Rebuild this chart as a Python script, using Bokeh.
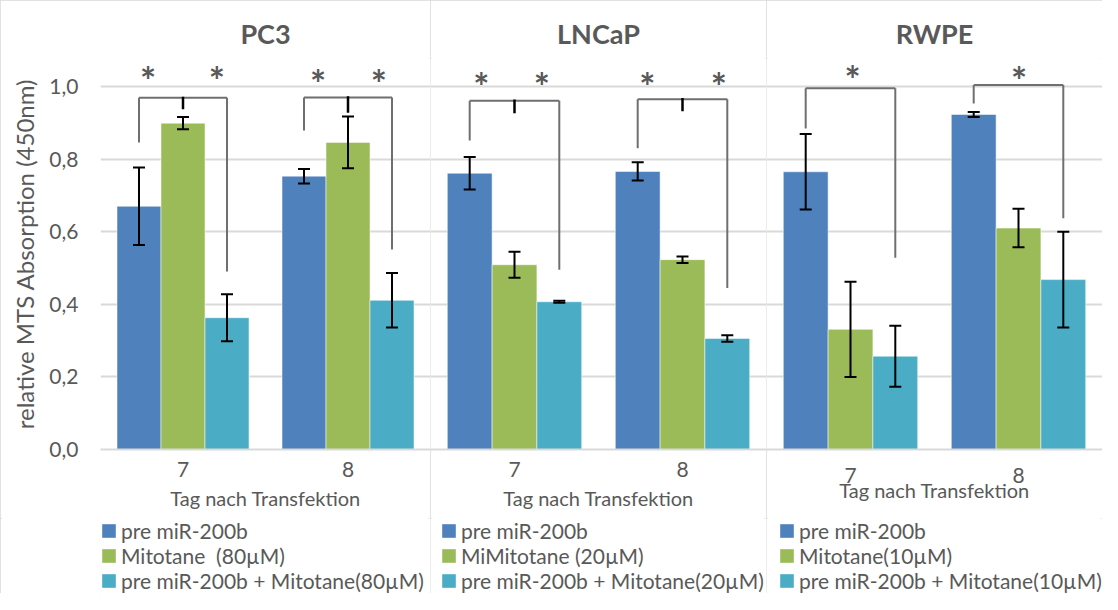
from bokeh.plotting import figure
from bokeh.models import (ColumnDataSource, Whisker, TeeHead, FactorRange, Range1d,
                          Legend, LegendItem, FixedTicker, CustomJSTickFormatter)
from bokeh.transform import dodge
from bokeh.layouts import row, column
from bokeh.core.properties import value
from bokeh.embed import file_html
from bokeh.resources import INLINE

# ---------------- data ----------------
days = ["7", "8"]
panel_titles = ["PC3", "LNCaP", "RWPE"]
x_label = "Tag nach Transfektion"
y_label = "relative MTS Absorption (450nm)"
y_ticks = [0.0, 0.2, 0.4, 0.6, 0.8, 1.0]

pc3_labels = ["pre miR-200b", "Mitotane  (80µM)", "pre miR-200b + Mitotane(80µM)"]
lncap_labels = ["pre miR-200b", "MiMitotane (20µM)", "pre miR-200b + Mitotane(20µM)"]
rwpe_labels = ["pre miR-200b", "Mitotane(10µM)", "pre miR-200b + Mitotane(10µM)"]

pc3_pre = [0.670, 0.753]
pc3_mit = [0.899, 0.846]
pc3_combo = [0.363, 0.411]
pc3_pre_err = [0.107, 0.020]
pc3_mit_err = [0.017, 0.071]
pc3_combo_err = [0.065, 0.075]

lncap_pre = [0.761, 0.766]
lncap_mit = [0.509, 0.523]
lncap_combo = [0.407, 0.306]
lncap_pre_err = [0.045, 0.025]
lncap_mit_err = [0.036, 0.009]
lncap_combo_err = [0.003, 0.009]

rwpe_pre = [0.765, 0.923]
rwpe_mit = [0.331, 0.610]
rwpe_combo = [0.257, 0.468]
rwpe_pre_err = [0.104, 0.007]
rwpe_mit_err = [0.131, 0.053]
rwpe_combo_err = [0.084, 0.132]

# significance brackets (y values of the bracket ends, per day)
pc3_sig_left = [0.846, 0.879]
pc3_sig_top = [0.969, 0.970]
pc3_sig_right = [0.490, 0.551]
pc3_sig_mark = [0.937, 0.928]
lncap_sig_left = [0.851, 0.830]
lncap_sig_top = [0.961, 0.965]
lncap_sig_right = [0.495, 0.445]
lncap_sig_mark = [0.926, 0.932]
rwpe_sig_left = [0.884, 0.953]
rwpe_sig_top = [0.995, 1.004]
rwpe_sig_right = [0.528, 0.637]
rwpe_sig_mark = [None, None]

# ---------------- styling ----------------
COLORS = ["#4F81BD", "#9BBB59", "#4BACC6"]
TXT = "#595959"
GRID = "#d9d9d9"
FONT = "Lato"
BAR_W = 0.8 / 3
OFFSETS = [-BAR_W, 0.0, BAR_W]
Y_TOP = 1.0771
CHART_H = 518
LEG_H = 75

# per panel annotation placement: star offsets (relative to day centre), star heights
star_layout = [
    ([[-0.211, 0.205], [-0.181, 0.187]], [1.036, 1.030]),
    ([[-0.198, 0.163], [-0.21, 0.216]], [1.022, 1.022]),
    ([[0.012], [0.004]], [1.041, 1.036]),
]


def make_panel(idx, title, series, errs, labels, sig, width, left_border,
               show_y, legend_x, tick_standoff, label_standoff):
    p = figure(x_range=FactorRange(factors=days, range_padding=0),
               y_range=Range1d(0, Y_TOP), width=width, height=CHART_H,
               output_backend="svg", toolbar_location=None,
               min_border_left=left_border, min_border_right=0,
               min_border_top=58, min_border_bottom=CHART_H - 449,
               y_axis_location="left" if show_y else None, title=title)
    p.outline_line_color = None
    p.background_fill_color = "white"
    p.border_fill_color = "white"

    p.title.align = "center"
    p.title.text_font = FONT
    p.title.text_font_style = "bold"
    p.title.text_font_size = "27px"
    p.title.text_color = TXT
    p.title.standoff = 18

    p.xgrid.visible = False
    p.ygrid.ticker = FixedTicker(ticks=y_ticks)
    p.ygrid.grid_line_color = GRID
    p.ygrid.grid_line_width = 2

    xa = p.xaxis[0]
    xa.axis_line_color = GRID
    xa.axis_line_width = 2
    xa.major_tick_line_color = None
    xa.minor_tick_line_color = None
    xa.major_tick_out = 0
    xa.major_label_text_font = FONT
    xa.major_label_text_font_size = "21px"
    xa.major_label_text_color = TXT
    xa.major_label_standoff = tick_standoff
    xa.axis_label = x_label
    xa.axis_label_text_font = FONT
    xa.axis_label_text_font_style = "normal"
    xa.axis_label_text_font_size = "20px"
    xa.axis_label_text_color = TXT
    xa.axis_label_standoff = label_standoff

    if show_y:
        ya = p.yaxis[0]
        ya.ticker = FixedTicker(ticks=y_ticks)
        ya.formatter = CustomJSTickFormatter(code="return tick.toFixed(1).replace('.', ',')")
        ya.axis_line_color = None
        ya.major_tick_line_color = None
        ya.minor_tick_line_color = None
        ya.major_tick_out = 0
        ya.major_label_text_font = FONT
        ya.major_label_text_font_size = "21px"
        ya.major_label_text_color = TXT
        ya.major_label_standoff = 22
        ya.axis_label = y_label
        ya.axis_label_text_font = FONT
        ya.axis_label_text_font_style = "normal"
        ya.axis_label_text_font_size = "24px"
        ya.axis_label_text_color = TXT
        ya.axis_label_standoff = 7

    for k, (vals, err) in enumerate(zip(series, errs)):
        src = ColumnDataSource(dict(day=days, top=vals,
                                    upper=[v + e for v, e in zip(vals, err)],
                                    lower=[v - e for v, e in zip(vals, err)]))
        p.vbar(x=dodge("day", OFFSETS[k], range=p.x_range), top="top", bottom=0,
               width=BAR_W, source=src, fill_color=COLORS[k],
               line_color="white", line_alpha=0.5, line_width=1)
        w = Whisker(base=dodge("day", OFFSETS[k], range=p.x_range), upper="upper",
                    lower="lower", source=src, line_color="black", line_width=2,
                    level="overlay",
                    upper_head=TeeHead(size=12, line_color="black", line_width=2),
                    lower_head=TeeHead(size=12, line_color="black", line_width=2))
        p.add_layout(w)

    # significance brackets
    left_y, top_y, right_y, mark_y = sig
    for i in range(len(days)):
        c = i + 0.5
        xl, xr = c + OFFSETS[0], c + OFFSETS[2]
        p.segment(x0=[xl, xl, xr], y0=[left_y[i], top_y[i], top_y[i]],
                  x1=[xl, xr, xr], y1=[top_y[i], top_y[i], right_y[i]],
                  line_color="#6f6f6f", line_width=2)
        if mark_y[i] is not None:
            p.segment(x0=[c], y0=[top_y[i] + 0.003], x1=[c], y1=[mark_y[i]],
                      line_color="black", line_width=2.5)

    offs, heights = star_layout[idx]
    sx, sy = [], []
    for i in range(len(days)):
        for o in offs[i]:
            sx.append(i + 0.5 + o)
            sy.append(heights[i])
    p.text(x=sx, y=sy, text=["*"] * len(sx), text_font=value(FONT),
           text_font_style="bold", text_font_size="38px", text_color=TXT,
           text_align="center", text_baseline="alphabetic", y_offset=7)

    # legend panel beneath the chart; swatch renderers sit outside the visible range
    lg = figure(width=width, height=LEG_H, x_range=Range1d(0, 1), y_range=Range1d(0, 1),
                output_backend="svg", toolbar_location=None,
                x_axis_location=None, y_axis_location=None,
                min_border=0, min_border_left=0, min_border_right=0,
                min_border_top=0, min_border_bottom=0)
    lg.outline_line_color = None
    lg.xgrid.visible = False
    lg.ygrid.visible = False
    swatches = [lg.vbar(x=[-5], top=[-5], bottom=[-5], width=0.1, fill_color=c,
                        line_color=None)
                for c in COLORS]
    legend = Legend(items=[LegendItem(label=lab, renderers=[r])
                           for lab, r in zip(labels, swatches)],
                    location=(legend_x, 0), orientation="vertical",
                    background_fill_alpha=0, border_line_color=None,
                    padding=0, margin=0, spacing=0,
                    glyph_width=17, glyph_height=17, label_height=25,
                    label_standoff=4, label_text_font=FONT,
                    label_text_font_size="21px", label_text_color=TXT)
    lg.add_layout(legend, "center")

    col = column(p, lg, spacing=0)
    col.styles = {"outline": "2px solid #d9d9d9", "outline-offset": "-2px"}
    return col


c1 = make_panel(0, panel_titles[0], [pc3_pre, pc3_mit, pc3_combo],
                [pc3_pre_err, pc3_mit_err, pc3_combo_err], pc3_labels,
                (pc3_sig_left, pc3_sig_top, pc3_sig_right, pc3_sig_mark),
                430, 100, True, 0, 12, 6)
c2 = make_panel(1, panel_titles[1], [lncap_pre, lncap_mit, lncap_combo],
                [lncap_pre_err, lncap_mit_err, lncap_combo_err], lncap_labels,
                (lncap_sig_left, lncap_sig_top, lncap_sig_right, lncap_sig_mark),
                336, 0, False, 10, 12, 6)
c3 = make_panel(2, panel_titles[2], [rwpe_pre, rwpe_mit, rwpe_combo],
                [rwpe_pre_err, rwpe_mit_err, rwpe_combo_err], rwpe_labels,
                (rwpe_sig_left, rwpe_sig_top, rwpe_sig_right, rwpe_sig_mark),
                336, 0, False, 12, 18, -8)

layout = row(c1, c2, c3, spacing=0)
open("out.html", "w").write(file_html(layout, INLINE))
